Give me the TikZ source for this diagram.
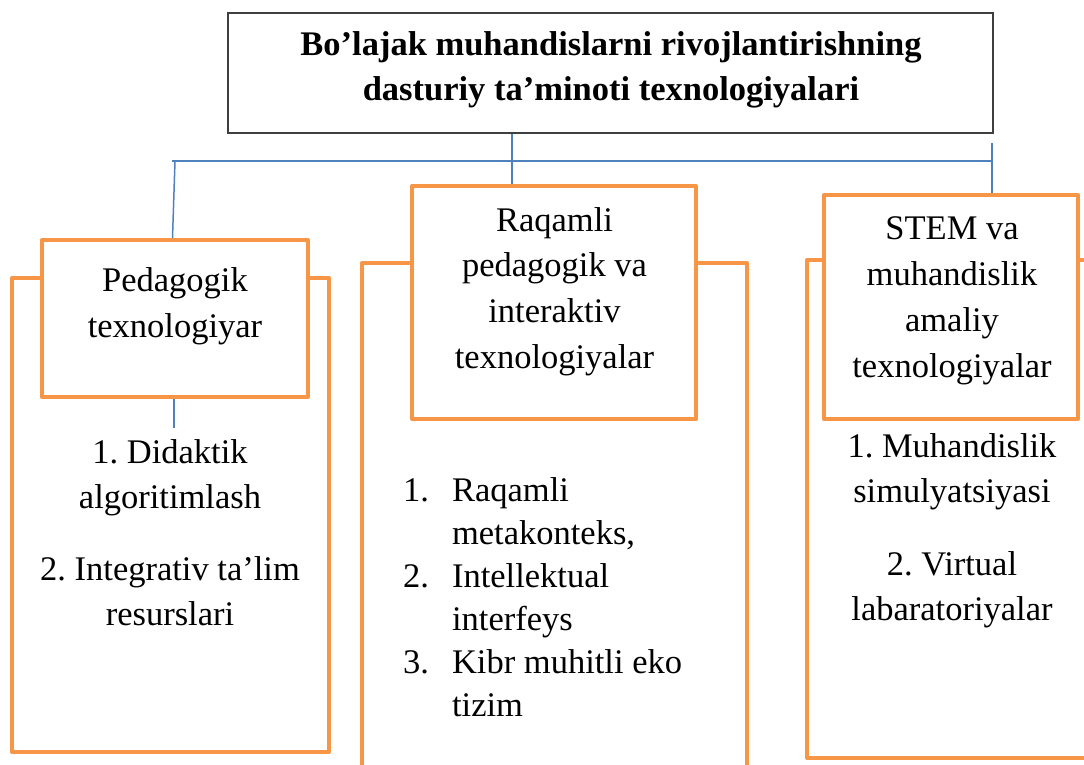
\documentclass[tikz,border=0pt]{standalone}
\usepackage{fontspec}
\setmainfont{Liberation Serif}
\definecolor{orng}{HTML}{F79646}
\definecolor{blu}{HTML}{4F81BD}
\definecolor{dgray}{HTML}{3F3F3F}
\newcommand{\tlines}[1]{\begin{tabular}[t]{@{}c@{}}#1\end{tabular}}
\frenchspacing
\begin{document}
\begin{tikzpicture}[x=1pt,y=-1pt,
  obox/.style={draw=orng,line width=4pt,line join=round,rectangle,inner sep=0pt,fill=white},
  tbox/.style={draw=dgray,line width=1.5pt,rectangle,inner sep=0pt,fill=white},
  conn/.style={draw=blu,line width=1.5pt},
  txt/.style={inner sep=0pt,anchor=base,font=\fontsize{34.5}{46}\selectfont},
  txtb/.style={inner sep=0pt,anchor=base,font=\fontsize{34.5}{45}\selectfont\bfseries},
  txtl/.style={inner sep=0pt,anchor=base,font=\fontsize{34.5}{45}\selectfont},
  txtm/.style={inner sep=0pt,anchor=base west,font=\fontsize{34.5}{43}\selectfont}]
\useasboundingbox (0,0) rectangle (1084,764);
\clip (0,0) rectangle (1084,764);
\fill[white] (0,0) rectangle (1084,764);

% outer boxes
\node[obox,minimum width=317pt,minimum height=474pt] (o1) at (170.5,515) {};
\node[obox,minimum width=385pt,minimum height=537pt] (o2) at (554.5,531.5) {};
\node[obox,minimum width=303pt,minimum height=498pt] (o3) at (958.5,509) {};

% header boxes
\node[obox,minimum width=266pt,minimum height=157pt] (h1) at (175,318.5) {};
\node[obox,minimum width=284pt,minimum height=233pt] (h2) at (554,302.5) {};
\node[obox,minimum width=254pt,minimum height=224pt] (h3) at (951,307) {};

% title box
\node[tbox,minimum width=765pt,minimum height=120pt] (t) at (610.5,73) {};

% connectors
\coordinate (jl) at (172,161);
\coordinate (jm) at (512,161);
\coordinate (jr) at (993,161);
\coordinate (lv) at (175,161);
\coordinate (lvb) at (172.5,239);
\coordinate (rtop) at (992,143);
\coordinate (lst) at (174,428);
\draw[conn] (jl) -- (jr);
\draw[conn] (t.south -| jm) -- (h2.north -| jm);
\draw[conn] (lv) -- (h1.north -| lvb);
\draw[conn] (rtop) -- (h3.north -| rtop);
\draw[conn] (h1.south -| lst) -- (lst);

% texts
\node[txtb] (tt) at (611,55) {\tlines{Bo’lajak muhandislarni rivojlantirishning\\dasturiy ta’minoti texnologiyalari}};
\node[txt] (l1) at (175,291) {\tlines{Pedagogik\\texnologiyar}};
\node[txt,font=\fontsize{34.5}{45.7}\selectfont] (l2) at (554.5,231) {\tlines{Raqamli\\pedagogik va\\interaktiv\\texnologiyalar}};
\node[txt] (l3) at (952,239) {\tlines{STEM va\\muhandislik\\amaliy\\texnologiyalar}};

\node[txtl] (b1a) at (170,463) {\tlines{1. Didaktik\\algoritimlash}};
\node[txtl] (b1b) at (170,580) {\tlines{2. Integrativ ta’lim\\resurslari}};

\node[txtm] (b2) at (403,501) {\begin{tabular}[t]{@{}l@{\hspace{23pt}}l@{}}
1. & Raqamli\\
   & metakonteks,\\
2. & Intellektual\\
   & interfeys\\
3. & Kibr muhitli eko\\
   & tizim
\end{tabular}};

\node[txtl] (b3a) at (952,457) {\tlines{1. Muhandislik\\simulyatsiyasi}};
\node[txtl] (b3b) at (952,575) {\tlines{2. Virtual\\labaratoriyalar}};
\end{tikzpicture}
\end{document}
